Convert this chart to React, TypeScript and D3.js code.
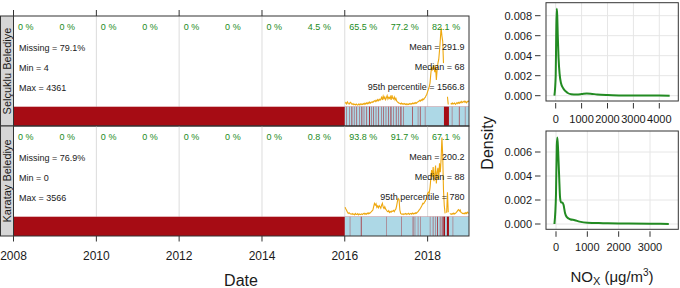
import React from 'react';
import * as d3 from 'd3';

const FONT = 'Liberation Sans, Arial, Helvetica, sans-serif';

const siteNames = ['Selçuklu Belediye', 'Karatay Belediye'];
const captureYears = [2008, 2009, 2010, 2011, 2012, 2013, 2014, 2015, 2016, 2017, 2018];
const pctSelcuklu = [0, 0, 0, 0, 0, 0, 0, 4.5, 65.5, 77.2, 82.1];
const pctKaratay = [0, 0, 0, 0, 0, 0, 0, 0.8, 93.8, 91.7, 67.1];
const leftStatsSelcuklu = ['Missing = 79.1%', 'Min = 4', 'Max = 4361'];
const rightStatsSelcuklu = ['Mean = 291.9', 'Median = 68', '95th percentile = 1566.8'];
const leftStatsKaratay = ['Missing = 76.9%', 'Min = 0', 'Max = 3566'];
const rightStatsKaratay = ['Mean = 200.2', 'Median = 88', '95th percentile = 780'];
const maxSelcuklu = 4361;
const maxKaratay = 3566;
const axisYears = [2008, 2010, 2012, 2014, 2016, 2018];

// weekly series starting 2016-01-04
const seriesStart = '2016-01-04';
const weeklySelcuklu: (number | null)[] = [
  180, 230, 150, 260, 190, 140, 210, 240, 160, 130, 170, 110, 140, 100, 150, 110, 90, 140, 100, 160,
  110, 150, 120, 170, 130, 190, 140, 210, 160, 230, 180, 260, 200, 240, 270, 230,
  290, 330, 280, 360, 300, 390, 330, 410, 350,
  430, 520, 370, 580, 440, 530, 390, 490, 610, 420, 520, 460, 560, 380, 630, 470, 420, 530, 370, 460, 320, 270,
  230, 190, 190, 150, 200, 140, 180, 130, 170, 120, 160, 110, 150, 120, 170, 130, 180, 140, 200, 160, 210, 170, 230, 190, 250, 270,
  300, 350, 310, 390, 340, 430, 390, 470, 510, 610, 690, 830,
  950, 1100, 1300, 1800, 2200, 2000,
  2150, 2300, 1900, 2200, 1470, 2050, 2400, 2600,
  3100, 3700, 4361, 3900,
  3600, 2400, null, null, null, null, 550, 120, null, null,
  180, 150, 210, 140, 180, 200, 130, 170, 220, 170, 240, 190, 260, 210, 290, 230, 270, 310, 240, 290, 220, 270, 310, 260,
];
const weeklyKaratay: (number | null)[] = [
  425, 350, 280, 200, 150, 180, 140, 120,
  110, 140, 95, 125, 85, 145, 105, 100, 135, 85, 125, 95, 115,
  125, 95, 135, 155, 105, 145, 115, 165, 125, 175, 145, 195, 215, 265, 300,
  450, 600, 520, 580, 420, 480,
  400, 500, 450, 380, 520, 600, 430, 370, 450, 350, 300,
  250, 220, 270, 190, 230, 200, 260, 240, 280, 230, 300, 350,
  500, 700, 820, 780, 300, 150,
  120, 105, 135, 95, 125, 145, 105, 135, 115, 155, 105, 135, 145, 115, 165, 125, 155, 135, 175, 155, 205, 225, 285, 330,
  380, 450, 520, 600, 580, 650, 700, 800, 900, 1050,
  1100, 1050, 1300, 1700, 2100, 1800,
  2240, 1600, 1900, 2300, 1500, 2000, 2200, 1700,
  2400, 2000, 2600, 3566, 2800,
  1200, 500, 150, null, 180, 1100, 200, null,
  150, 125, 110, 145, 115, 165, 125, 155, 185, 225, 285, 320, 255, 305, 195, 175, 145, 140, 165, 125, 185, 145, 205, 165, 160,
];

const dataStart = '2016-01-01';
const missingSelcuklu: [string, number][] = [
  ['2016-01-16', 3.5], ['2016-02-08', 3.5], ['2016-03-01', 6], ['2016-03-22', 3.5], ['2016-04-14', 4.5],
  ['2016-05-07', 3.5], ['2016-05-28', 6], ['2016-06-17', 3.5], ['2016-07-11', 4.5], ['2016-08-03', 7],
  ['2016-08-24', 3.5], ['2016-09-07', 4.5], ['2016-10-01', 3.5], ['2016-10-21', 4.5], ['2016-11-20', 3.5],
  ['2016-12-04', 4.5], ['2016-12-28', 3.5], ['2017-01-18', 4.5], ['2017-02-08', 7], ['2017-03-03', 3.5],
  ['2017-03-27', 4.5], ['2017-04-16', 3.5], ['2017-05-07', 7], ['2017-05-30', 3.5], ['2017-08-19', 5],
  ['2017-10-07', 3], ['2017-10-25', 5], ['2017-12-08', 3], ['2018-05-25', 44], ['2018-08-03', 3],
  ['2018-10-04', 5], ['2018-11-26', 3],
];
const missingKaratay: [string, number][] = [
  ['2016-02-15', 3], ['2016-05-22', 6], ['2017-01-04', 3], ['2017-05-16', 3.5], ['2017-08-23', 5],
  ['2017-09-10', 3], ['2017-10-07', 3], ['2017-10-31', 3], ['2018-01-21', 3], ['2018-02-16', 4],
  ['2018-03-08', 3], ['2018-03-27', 6], ['2018-04-19', 4], ['2018-05-06', 6], ['2018-05-20', 14],
  ['2018-06-20', 18], ['2018-08-11', 3],
];

const densSelcukluX = [-50, 0, 20, 40, 60, 80, 110, 150, 200, 300, 450, 600, 800, 1000, 1200, 1350, 1600, 2000, 2500, 3000, 3500, 4000, 4400];
const densSelcukluY = [0, 0.002, 0.006, 0.0087, 0.008, 0.006, 0.0038, 0.0022, 0.0013, 0.0007, 0.0003, 0.00015, 0.00012, 0.00016, 0.00022, 0.0002, 0.00012, 0.00006, 0.00003, 0.00002, 0.00001, 0.00001, 0];
const densKaratayX = [-50, 0, 25, 45, 70, 100, 130, 160, 200, 240, 290, 340, 450, 600, 750, 1000, 1500, 2000, 3000, 3600];
const densKaratayY = [0, 0.0025, 0.0065, 0.0072, 0.006, 0.004, 0.0022, 0.0018, 0.0018, 0.0016, 0.0009, 0.0006, 0.0004, 0.00032, 0.0002, 0.0001, 0.00007, 0.00005, 0.00002, 0.00001];
const densSelcukluXTicks = [0, 1000, 2000, 3000, 4000];
const densSelcukluYTicks = [0, 0.002, 0.004, 0.006, 0.008];
const densKaratayXTicks = [0, 1000, 2000, 3000];
const densKaratayYTicks = [0, 0.002, 0.004, 0.006];

const RED = '#a60c14';
const BLUE = '#add8e6';
const TREND = '#eea80f';
const GREEN = '#228b22';
const FRAME = '#333333';

const parse = (s: string) => {
  const [y, m, d] = s.split('-').map(Number);
  return new Date(Date.UTC(y, m - 1, d));
};
const DAY = 86400000;

const xT = d3.scaleUtc()
  .domain([new Date(Date.UTC(2008, 0, 1)), new Date(Date.UTC(2019, 0, 1))])
  .range([13.5, 469]);

function TimePanel({ top, name, pct, leftStats, rightStats, weekly, missing, maxV }: any) {
  const bottom = top + 110;
  const barTop = top + 90.7;
  const y = d3.scaleLinear().domain([0, maxV]).range([barTop, top + 11.5]);
  const start = parse(seriesStart).getTime();
  const pts = weekly.map((v: number | null, i: number) => ({ t: new Date(start + i * 7 * DAY), v }));
  const line = d3.line<any>().defined((d) => d.v != null).x((d) => xT(d.t)).y((d) => y(d.v));
  return (
    <g>
      {axisYears.slice(1).map((yr) => (
        <line key={yr} x1={xT(new Date(Date.UTC(yr, 0, 1)))} x2={xT(new Date(Date.UTC(yr, 0, 1)))} y1={top} y2={barTop} stroke="#dcdcdc" strokeWidth={1} />
      ))}
      <rect x={13.5} y={barTop} width={469 - 13.5} height={bottom - barTop} fill={RED} />
      <rect x={xT(parse(dataStart))} y={barTop} width={469 - xT(parse(dataStart))} height={bottom - barTop} fill={BLUE} />
      {missing.map(([s, days]: [string, number], i: number) => {
        const x0 = xT(parse(s));
        const x1 = xT(new Date(parse(s).getTime() + days * DAY));
        return <rect key={i} x={x0} y={barTop} width={Math.max(x1 - x0, 0.3)} height={bottom - barTop} fill={RED} />;
      })}
      <path d={line(pts) || ''} fill="none" stroke={TREND} strokeWidth={1.1} />
      {pct.map((p: number, i: number) => (
        <text key={i} x={xT(new Date(Date.UTC(captureYears[i], 0, 1))) + 4.5} y={top + 14} fontSize={9} fill={GREEN} fontFamily={FONT}>
          {p} %
        </text>
      ))}
      {leftStats.map((s: string, i: number) => (
        <text key={i} x={19} y={top + 34.5 + i * 20} fontSize={9} fill="#1a1a1a" fontFamily={FONT}>{s}</text>
      ))}
      {rightStats.map((s: string, i: number) => (
        <text key={i} x={464.5} y={top + 34 + i * 20} fontSize={9} fill="#1a1a1a" fontFamily={FONT} textAnchor="end">{s}</text>
      ))}
      <rect x={0.5} y={top} width={13} height={bottom - top} fill="#d6d6d6" stroke={FRAME} strokeWidth={1} />
      <text transform={`translate(7.2,${(top + bottom) / 2}) rotate(-90)`} fontSize={11} fontFamily={FONT} fill="#1a1a1a" textAnchor="middle" dominantBaseline="central">{name}</text>
      <rect x={13.5} y={top} width={469 - 13.5} height={bottom - top} fill="none" stroke={FRAME} strokeWidth={1} />
    </g>
  );
}

function DensityPanel({ boxTop, boxBottom, xs, ys, xTicks, yTicks, xDom, xRange, yDom, yRange }: any) {
  const x = d3.scaleLinear().domain(xDom).range(xRange);
  const y = d3.scaleLinear().domain(yDom).range(yRange);
  const boxL = 546, boxR = 678.3;
  const pts = xs.map((v: number, i: number) => [v, ys[i]]);
  const line = d3.line<any>().x((d) => x(d[0])).y((d) => y(d[1])).curve(d3.curveMonotoneX);
  return (
    <g fontFamily={FONT}>
      {xTicks.map((t: number) => (
        <line key={'gx' + t} x1={x(t)} x2={x(t)} y1={boxTop} y2={boxBottom} stroke="#e6e6e6" />
      ))}
      {yTicks.map((t: number) => (
        <line key={'gy' + t} x1={boxL} x2={boxR} y1={y(t)} y2={y(t)} stroke="#e6e6e6" />
      ))}
      <path d={line(pts) || ''} fill="none" stroke={GREEN} strokeWidth={2} />
      <rect x={boxL} y={boxTop} width={boxR - boxL} height={boxBottom - boxTop} fill="none" stroke={FRAME} strokeWidth={1} />
      {yTicks.map((t: number) => (
        <g key={'ty' + t}>
          <line x1={535} x2={540.5} y1={y(t)} y2={y(t)} stroke={FRAME} />
          <text x={532} y={y(t)} fontSize={11} textAnchor="end" dominantBaseline="central" fill="#1a1a1a">{d3.format('.3f')(t)}</text>
        </g>
      ))}
      {xTicks.map((t: number) => (
        <g key={'tx' + t}>
          <line x1={x(t)} x2={x(t)} y1={boxBottom + 2} y2={boxBottom + 7.5} stroke={FRAME} />
          <text x={x(t)} y={boxBottom + 18} fontSize={11} textAnchor="middle" dominantBaseline="central" fill="#1a1a1a">{t}</text>
        </g>
      ))}
    </g>
  );
}

export default function App() {
  return (
    <svg width={680} height={288} style={{ position: 'absolute', left: 0, top: 0, background: '#fff' }}>
      <rect width={680} height={288} fill="#fff" />
      {axisYears.map((yr) => (
        <line key={'tt' + yr} x1={xT(new Date(Date.UTC(yr, 0, 1)))} x2={xT(new Date(Date.UTC(yr, 0, 1)))} y1={10} y2={16} stroke={FRAME} />
      ))}
      <TimePanel top={16} name={siteNames[0]} pct={pctSelcuklu} leftStats={leftStatsSelcuklu} rightStats={rightStatsSelcuklu}
        weekly={weeklySelcuklu} missing={missingSelcuklu} maxV={maxSelcuklu} />
      <TimePanel top={126} name={siteNames[1]} pct={pctKaratay} leftStats={leftStatsKaratay} rightStats={rightStatsKaratay}
        weekly={weeklyKaratay} missing={missingKaratay} maxV={maxKaratay} />
      {axisYears.map((yr) => (
        <g key={'bt' + yr}>
          <line x1={xT(new Date(Date.UTC(yr, 0, 1)))} x2={xT(new Date(Date.UTC(yr, 0, 1)))} y1={236} y2={241.5} stroke={FRAME} />
          <text x={xT(new Date(Date.UTC(yr, 0, 1)))} y={256} fontSize={12} textAnchor="middle" dominantBaseline="central" fontFamily={FONT} fill="#1a1a1a">{yr}</text>
        </g>
      ))}
      <text x={241} y={286} fontSize={16} textAnchor="middle" fontFamily={FONT} fill="#1a1a1a">Date</text>

      <DensityPanel boxTop={2.7} boxBottom={101} xs={densSelcukluX} ys={densSelcukluY} xTicks={densSelcukluXTicks} yTicks={densSelcukluYTicks}
        xDom={[0, 4000]} xRange={[555.7, 659.3]} yDom={[0, 0.008]} yRange={[95.7, 15.7]} />
      <DensityPanel boxTop={131} boxBottom={229.3} xs={densKaratayX} ys={densKaratayY} xTicks={densKaratayXTicks} yTicks={densKaratayYTicks}
        xDom={[0, 3000]} xRange={[556, 650]} yDom={[0, 0.006]} yRange={[224, 152]} />
      <text transform="translate(487,143) rotate(-90)" fontSize={16} textAnchor="middle" dominantBaseline="central" fontFamily={FONT} fill="#1a1a1a">Density</text>
      <text x={612} y={282} fontSize={15} textAnchor="middle" fontFamily={FONT} fill="#1a1a1a">
        NO<tspan fontSize={11} dy={3}>X</tspan><tspan dy={-3}> (μg/m</tspan><tspan fontSize={10} dy={-6}>3</tspan><tspan dy={6}>)</tspan>
      </text>
    </svg>
  );
}
